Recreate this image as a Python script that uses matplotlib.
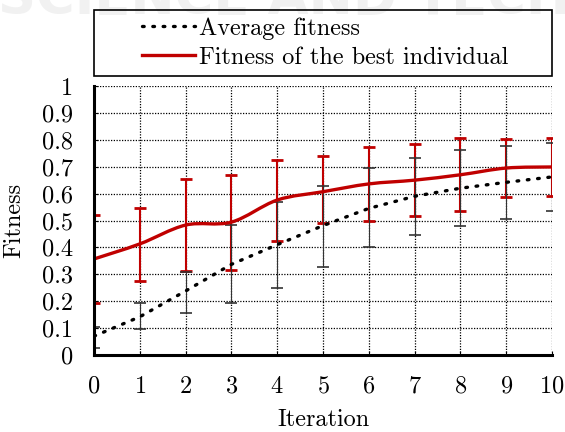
import matplotlib
matplotlib.use('Agg')
import matplotlib.pyplot as plt
from matplotlib.path import Path
from matplotlib.patches import PathPatch, Rectangle
from matplotlib.lines import Line2D

plt.rcParams['font.family'] = 'serif'
plt.rcParams['font.serif'] = ['cmr10']
plt.rcParams['axes.formatter.use_mathtext'] = True

iterations = [0, 1, 2, 3, 4, 5, 6, 7, 8, 9, 10]

# average fitness and its spread
avg = [0.07, 0.142, 0.238, 0.337, 0.41, 0.481, 0.545, 0.59, 0.62, 0.642, 0.662]
avg_low = [0.026, 0.098, 0.157, 0.193, 0.248, 0.328, 0.40, 0.446, 0.48, 0.505, 0.536]
avg_high = [0.104, 0.193, 0.31, 0.483, 0.57, 0.628, 0.694, 0.733, 0.763, 0.778, 0.789]

# best individual and its spread
best = [0.357, 0.413, 0.483, 0.494, 0.576, 0.607, 0.636, 0.65, 0.67, 0.695, 0.699]
best_low = [0.193, 0.275, 0.312, 0.316, 0.423, 0.49, 0.499, 0.518, 0.535, 0.586, 0.592]
best_high = [0.52, 0.545, 0.653, 0.67, 0.725, 0.74, 0.772, 0.784, 0.807, 0.802, 0.807]

red = '#c00000'
fs = 17.5

fig = plt.figure(figsize=(5.65, 4.32), dpi=100)
ax = fig.add_axes([94/565, 1-355/432, 458/565, 269/432])

# faint watermark of the source page
fig.text(-0.004, 1-14/432, 'SCIENCE AND TECHNOLOGY', fontsize=38, fontweight='bold',
         family='DejaVu Sans', color='#f1f1f1', va='baseline', zorder=0)

# red error bars
ax.errorbar(iterations, best,
            yerr=[[b - l for b, l in zip(best, best_low)], [h - b for b, h in zip(best, best_high)]],
            fmt='none', ecolor=red, elinewidth=1.5, capsize=4, capthick=2, zorder=3)

# black error bars
ax.errorbar(iterations, avg,
            yerr=[[a - l for a, l in zip(avg, avg_low)], [h - a for a, h in zip(avg, avg_high)]],
            fmt='none', ecolor='#333333', elinewidth=0.8, capsize=4, capthick=1.2, zorder=4)
for cap in ax.containers[-1].lines[1]:
    cap.set_color('#808080')

ax.plot(iterations, avg, color='black', linestyle=(0, (0.5, 2.6)), linewidth=2.4,
        dash_capstyle='round', zorder=5)

# smooth red curve (bezier through the points)
verts = [(iterations[0], best[0])]
codes = [Path.MOVETO]
n = len(iterations)
for i in range(n - 1):
    p0 = (iterations[max(i - 1, 0)], best[max(i - 1, 0)])
    p1 = (iterations[i], best[i])
    p2 = (iterations[i + 1], best[i + 1])
    p3 = (iterations[min(i + 2, n - 1)], best[min(i + 2, n - 1)])
    c1 = (p1[0] + (p2[0] - p0[0]) / 6, p1[1] + (p2[1] - p0[1]) / 6)
    c2 = (p2[0] - (p3[0] - p1[0]) / 6, p2[1] - (p3[1] - p1[1]) / 6)
    verts += [c1, c2, p2]
    codes += [Path.CURVE4] * 3
ax.add_patch(PathPatch(Path(verts, codes), fill=False, edgecolor=red, linewidth=2.4, zorder=6))

ax.set_xlim(0, 10)
ax.set_ylim(0, 1)
ax.set_xticks(iterations)
ax.set_yticks([i / 10 for i in range(11)])
ax.set_yticklabels(['0', '0.1', '0.2', '0.3', '0.4', '0.5', '0.6', '0.7', '0.8', '0.9', '1'])
ax.tick_params(direction='in', length=3, width=0.8, labelsize=fs, pad=15)
ax.grid(True, color='black', linestyle=(0, (1, 1.2)), linewidth=0.9)
ax.set_axisbelow(True)

for s in ['top', 'right']:
    ax.spines[s].set_visible(False)
for s in ['left', 'bottom']:
    ax.spines[s].set_linewidth(2.2)
    ax.spines[s].set_zorder(7)

ax.set_xlabel('Iteration', fontsize=fs)
ax.set_ylabel('Fitness', fontsize=fs)
ax.xaxis.set_label_coords(0.5, -0.2)
ax.yaxis.set_label_coords(-0.15, 0.5)

# legend above the plot
handles = [Line2D([], [], color='black', linestyle=(0, (0.5, 2.6)), linewidth=2.4, dash_capstyle='round'),
           Line2D([], [], color=red, linewidth=2.4)]
fig.legend(handles, ['Average fitness', 'Fitness of the best individual'],
           loc='center', bbox_to_anchor=(325/565, 1-43/432), frameon=False,
           fontsize=fs, handlelength=2.2, handletextpad=0.15, labelspacing=0.3)
fig.add_artist(Rectangle((94/565, 1-76/432), 458/565, 66/432, transform=fig.transFigure,
                         fill=False, edgecolor='black', linewidth=1.2))

plt.savefig('out.png', dpi=100)
